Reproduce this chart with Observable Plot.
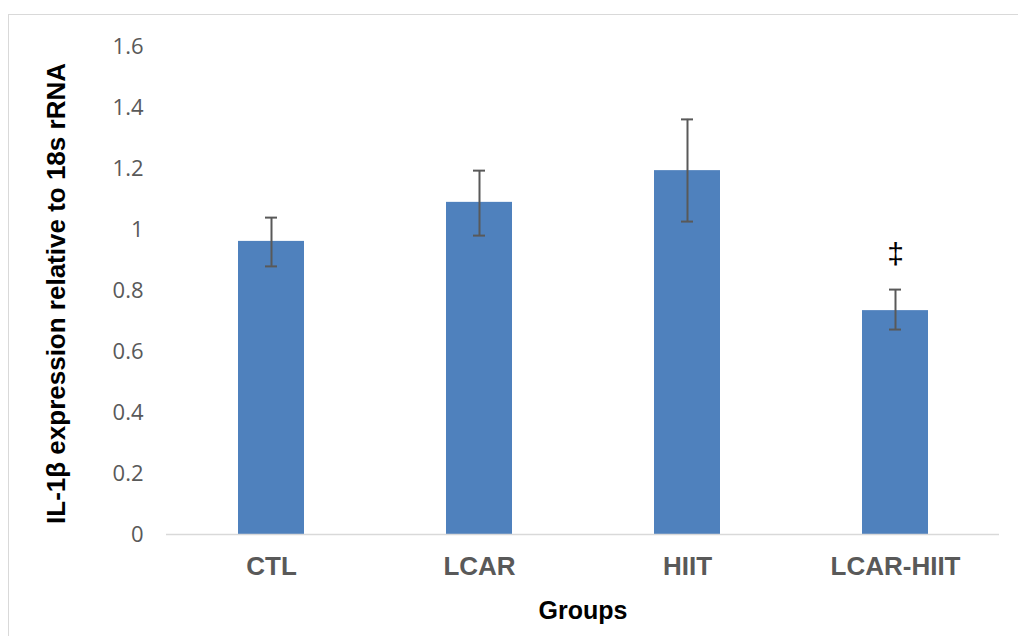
<!DOCTYPE html>
<html><head><meta charset="utf-8">
<script src="https://cdn.jsdelivr.net/npm/d3@7"></script>
<script src="https://cdn.jsdelivr.net/npm/@observablehq/plot@0.6"></script>
<style>
html,body{margin:0;padding:0;background:#fff;}
#wrap{position:relative;width:1018px;height:636px;overflow:hidden;}
#frame{position:absolute;left:8px;top:14px;width:1100px;height:700px;border:1.5px solid #d9d9d9;box-sizing:border-box;pointer-events:none;}
#chart{position:absolute;left:0;top:0;}
</style></head>
<body><div id="wrap"><div id="chart"></div><div id="frame"></div></div>
<script>
const groups = ["CTL", "LCAR", "HIIT", "LCAR-HIIT"];
const means = [0.961, 1.089, 1.193, 0.734];
const errLow = [0.879, 0.980, 1.026, 0.672];
const errHigh = [1.039, 1.193, 1.361, 0.803];
const yTicks = [0, 0.2, 0.4, 0.6, 0.8, 1, 1.2, 1.4, 1.6];
const marks = ["", "", "", "‡"];
const yLabel = "IL-1β expression relative to 18s rRNA";
const xLabel = "Groups";

const data = groups.map((g, i) => ({group: g, mean: means[i], lo: errLow[i], hi: errHigh[i], mark: marks[i]}));

const chart = Plot.plot({
  width: 1018,
  height: 636,
  marginLeft: 166,
  marginRight: 19,
  marginTop: 46,
  marginBottom: 102,
  style: {fontFamily: "'Liberation Sans', Arial, sans-serif", background: "transparent", overflow: "visible"},
  x: {domain: groups, padding: 0, label: null},
  y: {domain: [0, 1.6], label: null},
  marks: [
    Plot.barY(data, {x: "group", y: "mean", fill: "#4f81bd", insetLeft: 71, insetRight: 71}),
    Plot.ruleY([0], {stroke: "#d9d9d9", strokeWidth: 1.5}),
    Plot.ruleX(data, {x: "group", y1: "lo", y2: "hi", stroke: "#595959", strokeWidth: 2}),
    Plot.tickY(data, {x: "group", y: "lo", stroke: "#595959", strokeWidth: 2, insetLeft: 98, insetRight: 98}),
    Plot.tickY(data, {x: "group", y: "hi", stroke: "#595959", strokeWidth: 2, insetLeft: 98, insetRight: 98}),
    Plot.text(data, {x: "group", y: "hi", text: "mark", dy: -35, fontSize: 30, fill: "#000"}),
    Plot.axisY({ticks: yTicks, tickSize: 0, tickPadding: 23, tickFormat: d => String(d), fontSize: 22, fill: "#595959", fontFamily: "'Open Sans', sans-serif", label: null}),
    Plot.axisX({tickSize: 0, tickPadding: 22, fontSize: 26, fontWeight: "bold", fill: "#595959", label: null}),
    Plot.text([xLabel], {frameAnchor: "bottom", lineAnchor: "middle", dy: 76, fontSize: 25, fontWeight: "bold", fill: "#000", text: d => d}),
    Plot.text([yLabel], {frameAnchor: "left", textAnchor: "middle", lineAnchor: "middle", dx: -110, dy: 3, rotate: -90, fontSize: 26, fontWeight: "bold", fill: "#000", text: d => d})
  ]
});
document.getElementById("chart").appendChild(chart);
</script></body></html>
